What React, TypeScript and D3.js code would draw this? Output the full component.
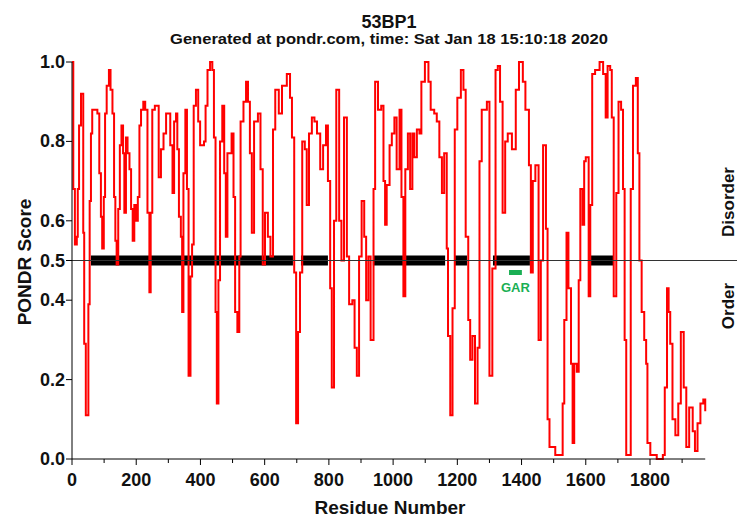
import React from "react";
import * as d3 from "d3";

const residues = [
  0, 4, 9, 15, 18, 22, 26, 28, 33, 35, 38, 43, 48, 51, 55, 59, 63, 72, 79, 85, 90, 94, 99, 103, 108, 115, 120, 126, 131, 135, 139, 144, 149, 154, 159, 163, 168, 173, 179, 184, 189, 194, 199, 205, 210, 215, 222, 228, 235, 241, 245, 250, 258, 264, 270, 277, 285, 293, 301, 306, 313, 318, 324, 328, 333, 339, 343, 347, 353, 358, 363, 369, 374, 379, 386, 393, 399, 405, 411, 416, 422, 430, 437, 442, 447, 451, 456, 461, 468,
  474, 479, 484, 497, 503, 508, 515, 521, 525, 534, 542, 548, 554, 560, 567, 579, 587, 594, 601, 610, 618, 626, 633, 644, 654, 669, 679, 685, 692, 698, 704, 710, 717, 725, 731, 738, 747, 755, 763, 773, 782, 791, 797, 804, 809, 816, 823, 832, 839, 847, 856, 863, 873, 880, 887, 894, 902, 910, 916, 923, 930, 939, 944, 953, 963,
  970, 975, 980, 989, 996, 1004, 1011, 1020, 1026, 1032, 1038, 1046, 1053, 1060, 1066, 1074, 1082, 1088, 1099, 1110, 1117, 1128, 1136, 1144, 1152, 1159, 1167, 1171, 1178, 1185, 1192, 1200, 1211, 1219, 1226, 1234, 1240, 1247, 1255, 1263, 1269, 1276, 1285, 1292, 1300, 1309, 1319, 1326, 1333, 1341, 1349, 1357, 1370, 1382, 1392, 1404, 1412, 1423, 1429, 1435, 1443, 1453, 1460, 1467, 1476, 1481, 1487,
  1505, 1522, 1528, 1533, 1540, 1546, 1554, 1559, 1564, 1572, 1578, 1583, 1590, 1595, 1600, 1609, 1614, 1620, 1629, 1643, 1654, 1662, 1668, 1676, 1681, 1687, 1695, 1702, 1710, 1716, 1721, 1726, 1735, 1740, 1747, 1756, 1762, 1767, 1774, 1782, 1788, 1792, 1801, 1821, 1840, 1846, 1853, 1858, 1863, 1870, 1879, 1888, 1896, 1905, 1913, 1922, 1933, 1940, 1948, 1957, 1966, 1972,
];

const scores = [
  1.0, 0.68, 0.54, 0.56, 0.68, 0.84, 0.84, 0.92, 0.92, 0.57, 0.29, 0.11, 0.11, 0.39, 0.65, 0.82, 0.88, 0.88, 0.87, 0.72, 0.61, 0.53, 0.66, 0.87, 0.94, 0.98, 0.93, 0.87, 0.66, 0.55, 0.49, 0.63, 0.79, 0.84, 0.77, 0.62, 0.81, 0.77, 0.73, 0.63, 0.55, 0.64, 0.6, 0.66, 0.84, 0.88, 0.9, 0.88, 0.62, 0.42, 0.62, 0.88, 0.89, 0.89, 0.71, 0.78, 0.82, 0.87, 0.87, 0.79, 0.67, 0.85, 0.87, 0.78, 0.61, 0.56, 0.37, 0.72, 0.88, 0.68, 0.21, 0.46, 0.54, 0.89, 0.93, 0.85, 0.79, 0.79, 0.8, 0.89, 0.98, 1.0, 0.98, 0.81, 0.37, 0.14, 0.45, 0.8, 0.89,
  0.72, 0.56, 0.77, 0.82, 0.66, 0.37, 0.32, 0.51, 0.85, 0.9, 0.95, 0.9, 0.77, 0.57, 0.85, 0.87, 0.73, 0.49, 0.62, 0.56, 0.51, 0.83, 0.93, 0.87, 0.94, 0.97, 0.91, 0.81, 0.47, 0.09, 0.32, 0.47, 0.8, 0.78, 0.64, 0.82, 0.86, 0.85, 0.82, 0.73, 0.79, 0.84, 0.7, 0.43, 0.18, 0.6, 0.93, 0.6, 0.5, 0.86, 0.51, 0.39, 0.4, 0.28, 0.21, 0.51, 0.65, 0.56, 0.4, 0.51, 0.3, 0.68, 0.95, 0.88, 0.89,
  0.7, 0.59, 0.69, 0.79, 0.82, 0.86, 0.73, 0.88, 0.66, 0.41, 0.73, 0.82, 0.68, 0.82, 0.76, 0.83, 0.82, 0.95, 1.0, 0.95, 0.88, 0.87, 0.85, 0.76, 0.67, 0.77, 0.53, 0.31, 0.11, 0.38, 0.83, 0.91, 0.98, 0.93, 0.56, 0.35, 0.25, 0.31, 0.14, 0.28, 0.75, 0.88, 0.88, 0.9, 0.21, 0.48, 0.98, 0.99, 0.9, 0.62, 0.8, 0.82, 0.78, 0.93, 1.0, 0.95, 0.88, 0.74, 0.47, 0.7, 0.74, 0.3, 0.5, 0.79, 0.58, 0.1, 0.03,
  0.01, 0.01, 0.14, 0.35, 0.57, 0.43, 0.24, 0.04, 0.24, 0.22, 0.45, 0.68, 0.59, 0.75, 0.76, 0.41, 0.64, 0.97, 0.98, 1.0, 0.97, 0.86, 0.99, 0.98, 0.86, 0.41, 0.67, 0.9, 0.88, 0.68, 0.3, 0.01, 0.01, 0.68, 0.94, 0.96, 0.77, 0.5, 0.37, 0.3, 0.24, 0.04, 0.01, 0.0, 0.01, 0.18, 0.43, 0.37, 0.29, 0.1, 0.06, 0.14, 0.32, 0.18, 0.03, 0.13, 0.07, 0.02, 0.09, 0.14, 0.15, 0.12,
];

// Disordered segments (black bars), residue start/end
const segStarts = [59, 713, 937, 1193, 1311, 1613];
const segEnds = [688, 797, 1162, 1230, 1426, 1685];

const garStart = 1361;
const garEnd = 1401;
const garLabel = "GAR";

const yTicks = [0, 0.2, 0.4, 0.5, 0.6, 0.8, 1.0];
const xMinorTicks = d3.range(0, 2000, 100);
const xLabelTicks = [0, 200, 400, 600, 800, 1000, 1200, 1400, 1600, 1800];

const title = "53BP1";
const subtitle = "Generated at pondr.com, time: Sat Jan 18 15:10:18 2020";
const xTitle = "Residue Number";
const yTitle = "PONDR Score";

const W = 737;
const H = 518;
const FONT = "'Liberation Sans', Arial, Helvetica, sans-serif";

export default function App() {
  const x = d3.scaleLinear().domain([0, 1800]).range([72, 650]);
  const y = d3.scaleLinear().domain([0, 1]).range([459, 62]);
  const data = residues.map((r, i) => [r, scores[i]] as [number, number]);
  const line = d3
    .line<[number, number]>()
    .x((d) => x(d[0]))
    .y((d) => y(d[1]))
    .curve(d3.curveStepAfter);

  const xEnd = x(1972);

  return (
    <svg
      width={W}
      height={H}
      style={{ position: "absolute", left: 0, top: 0, background: "#fff" }}
      fontFamily={FONT}
    >
      <rect x={0} y={0} width={W} height={H} fill="#fff" />
      <text x={389} y={28} textAnchor="middle" fontSize={18} fontWeight="bold" fill="#111">
        {title}
      </text>
      <text
        x={389}
        y={44}
        textAnchor="middle"
        fontSize={14.5}
        fontWeight="bold"
        fill="#111"
        textLength={438}
        lengthAdjust="spacingAndGlyphs"
      >
        {subtitle}
      </text>

      {/* disordered segments */}
      {segStarts.map((s, i) => (
        <rect key={i} x={x(s)} y={y(0.5) - 5} width={x(segEnds[i]) - x(s)} height={10} fill="#000" />
      ))}

      {/* red prediction line */}
      <path d={line(data) || ""} fill="none" stroke="#ff0000" strokeWidth={2} />

      {/* 0.5 threshold line */}
      <line x1={x(0)} x2={W} y1={y(0.5)} y2={y(0.5)} stroke="#333" strokeWidth={1} />

      {/* GAR */}
      <rect x={x(garStart)} y={270} width={x(garEnd) - x(garStart)} height={5} fill="#1aaf54" />
      <text x={(x(garStart) + x(garEnd)) / 2} y={292} textAnchor="middle" fontSize={13} fontWeight="bold" fill="#1aaf54">
        {garLabel}
      </text>

      {/* y axis */}
      <line x1={72} x2={72} y1={y(1)} y2={y(0)} stroke="#000" strokeWidth={1} />
      {yTicks.map((t) => (
        <g key={t}>
          <line x1={66} x2={72} y1={y(t)} y2={y(t)} stroke="#000" />
          <text x={65} y={y(t) + 6} textAnchor="end" fontSize={18} fontWeight="bold" fill="#111">
            {t.toFixed(1)}
          </text>
        </g>
      ))}

      {/* x axis */}
      <line x1={72} x2={xEnd} y1={y(0)} y2={y(0)} stroke="#000" strokeWidth={1} />
      {xMinorTicks.map((t) => (
        <line key={t} x1={x(t)} x2={x(t)} y1={y(0)} y2={y(0) + (t % 200 === 0 ? 6 : 4)} stroke="#000" />
      ))}
      {xLabelTicks.map((t) => (
        <text key={t} x={x(t)} y={486} textAnchor="middle" fontSize={18} fontWeight="bold" fill="#111">
          {t}
        </text>
      ))}

      <text x={390} y={514} textAnchor="middle" fontSize={19} fontWeight="bold" fill="#111">
        {xTitle}
      </text>
      <text
        transform={`translate(31, 262) rotate(-90)`}
        textAnchor="middle"
        fontSize={19}
        fontWeight="bold"
        fill="#111"
      >
        {yTitle}
      </text>

      <text transform={`translate(734, 202) rotate(-90)`} textAnchor="middle" fontSize={17} fontWeight="bold" fill="#111">
        Disorder
      </text>
      <text transform={`translate(734, 306) rotate(-90)`} textAnchor="middle" fontSize={17} fontWeight="bold" fill="#111">
        Order
      </text>
    </svg>
  );
}
